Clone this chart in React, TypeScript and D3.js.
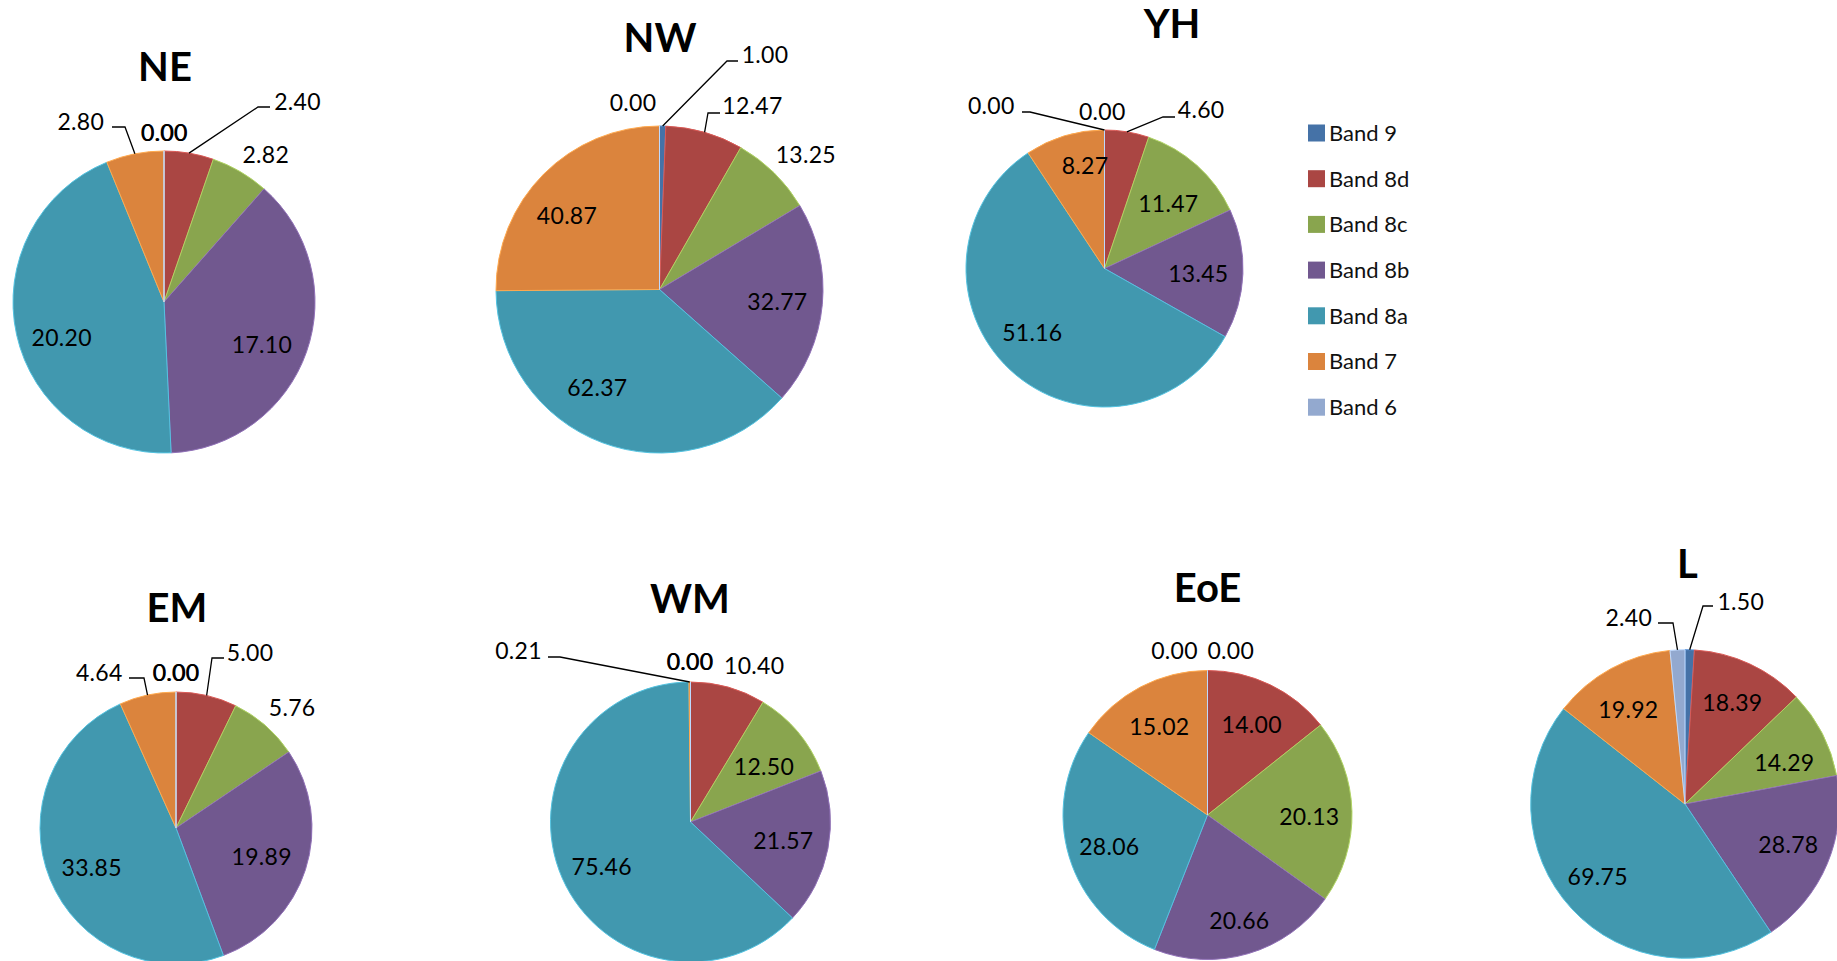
import React from "react";
import * as d3 from "d3";

// Spectral bands (legend order, also the clockwise slice order from 12 o'clock)
const bands = ["Band 9", "Band 8d", "Band 8c", "Band 8b", "Band 8a", "Band 7", "Band 6"];
const bandColors = ["#4572A7", "#AA4643", "#89A54E", "#71588F", "#4198AF", "#DB843D", "#93A9CF"];

// Regions
const regions = ["NE", "NW", "YH", "EM", "WM", "EoE", "L"];

// Values per region, in band order
const neValues = [0.0, 2.4, 2.82, 17.1, 20.2, 2.8, 0.0];
const nwValues = [1.0, 12.47, 13.25, 32.77, 62.37, 40.87, 0.0];
const yhValues = [0.0, 4.6, 11.47, 13.45, 51.16, 8.27, 0.0];
const emValues = [0.0, 5.0, 5.76, 19.89, 33.85, 4.64, 0.0];
const wmValues = [0.0, 10.4, 12.5, 21.57, 75.46, 0.21, 0.0];
const eoeValues = [0.0, 14.0, 20.13, 20.66, 28.06, 15.02, 0.0];
const lValues = [1.5, 18.39, 14.29, 28.78, 69.75, 19.92, 2.4];

const regionValues = [neValues, nwValues, yhValues, emValues, wmValues, eoeValues, lValues];

// Panel layout: pie centre/radius, title anchor, and label anchors relative to the pie centre.
// A label with `leader` gets a callout: slice edge -> elbow -> short horizontal run.
type LabelPos = { dx: number; dy: number; leader?: { ex: number; ey: number; tx: number } };
type Panel = { cx: number; cy: number; r: number; tx: number; ty: number; labels: LabelPos[] };

const panels: Panel[] = [
  {
    cx: 164, cy: 302, r: 151, tx: 165, ty: 81,
    labels: [
      { dx: 0, dy: -169.2 },
      { dx: 133.5, dy: -200.2, leader: { ex: 94, ey: -195, tx: 106 } },
      { dx: 101.8, dy: -146.8 },
      { dx: 98, dy: 43 },
      { dx: -102.3, dy: 36.3 },
      { dx: -83.2, dy: -180.2, leader: { ex: -39, ey: -175, tx: -52 } },
      { dx: 0.6, dy: -169.2 },
    ],
  },
  {
    cx: 659.5, cy: 289.5, r: 163.5, tx: 660, ty: 52,
    labels: [
      { dx: 105.5, dy: -235, leader: { ex: 67.5, ey: -228.5, tx: 78.5 } },
      { dx: 93, dy: -183.7, leader: { ex: 48.5, ey: -176.5, tx: 60.5 } },
      { dx: 146.3, dy: -135 },
      { dx: 117.8, dy: 12.2 },
      { dx: -62.2, dy: 98.8 },
      { dx: -92.5, dy: -73.5 },
      { dx: -26.5, dy: -186.7 },
    ],
  },
  {
    cx: 1104.5, cy: 268.5, r: 138.5, tx: 1172, ty: 38,
    labels: [
      { dx: -2.3, dy: -156.5 },
      { dx: 96.7, dy: -158.5, leader: { ex: 58.5, ey: -151.5, tx: 70.5 } },
      { dx: 63.8, dy: -64.5 },
      { dx: 93.8, dy: 5.5 },
      { dx: -72.2, dy: 64.8 },
      { dx: -19.5, dy: -102.3 },
      { dx: -113.3, dy: -162.3, leader: { ex: -74.5, ey: -156.5, tx: -82.5 } },
    ],
  },
  {
    cx: 176, cy: 828, r: 136, tx: 177, ty: 622,
    labels: [
      { dx: -0.2, dy: -155.5 },
      { dx: 74, dy: -175, leader: { ex: 36, ey: -170, tx: 48 } },
      { dx: 116.2, dy: -120.5 },
      { dx: 85.7, dy: 28.7 },
      { dx: -84.3, dy: 40.3 },
      { dx: -76.8, dy: -155.5, leader: { ex: -32, ey: -150, tx: -47 } },
      { dx: 0.4, dy: -155.5 },
    ],
  },
  {
    cx: 690.5, cy: 822, r: 140, tx: 690, ty: 613,
    labels: [
      { dx: -0.8, dy: -159.8 },
      { dx: 63.7, dy: -156.5 },
      { dx: 73.5, dy: -55.3 },
      { dx: 92.8, dy: 18.7 },
      { dx: -88.8, dy: 44.7 },
      { dx: -172, dy: -171.3, leader: { ex: -130.5, ey: -165, tx: -142.5 } },
      { dx: -0.2, dy: -159.8 },
    ],
  },
  {
    cx: 1207.5, cy: 815, r: 144.5, tx: 1207.5, ty: 602,
    labels: [
      { dx: 23.3, dy: -163.8 },
      { dx: 44.2, dy: -90 },
      { dx: 101.8, dy: 1.7 },
      { dx: 31.8, dy: 106 },
      { dx: -98.2, dy: 31.7 },
      { dx: -48.2, dy: -88.3 },
      { dx: -33, dy: -163.8 },
    ],
  },
  {
    cx: 1685, cy: 804, r: 154.3, tx: 1687.5, ty: 578,
    labels: [
      { dx: 55.8, dy: -202.5, leader: { ex: 18, ey: -198, tx: 28 } },
      { dx: 47.3, dy: -100.7 },
      { dx: 99.3, dy: -40.7 },
      { dx: 103.3, dy: 41 },
      { dx: -87.3, dy: 72.7 },
      { dx: -56.7, dy: -94 },
      { dx: -56.2, dy: -186.5, leader: { ex: -12, ey: -181, tx: -27 } },
    ],
  },
];

const FONT = "Lato, 'Open Sans', 'Liberation Sans', sans-serif";
const LABEL_SIZE = 23;
const TITLE_SIZE = 40;

const color = d3.scaleOrdinal<string, string>().domain(bands).range(bandColors);

const legend = { x: 1308, y: 133, step: 45.7, box: 17 };

function PieChart({ name, values, panel }: { name: string; values: number[]; panel: Panel }) {
  const pie = d3
    .pie<number>()
    .sort(null)
    .value((v) => v);
  const arcs = pie(values);
  const arc = d3.arc<d3.PieArcDatum<number>>().innerRadius(0).outerRadius(panel.r);
  const baselineShift = LABEL_SIZE * 0.355;

  return (
    <g>
      <text
        x={panel.tx}
        y={panel.ty}
        textAnchor="middle"
        fontFamily={FONT}
        fontWeight={700}
        fontSize={TITLE_SIZE}
        fill="#000"
      >
        {name}
      </text>
      <g transform={`translate(${panel.cx},${panel.cy})`}>
        {arcs.map((a, i) => {
          const fill = color(bands[i]);
          return (
            <path
              key={bands[i]}
              d={arc(a) || ""}
              fill={fill}
              stroke={d3.color(fill)!.brighter(0.7).formatHex()}
              strokeWidth={1}
              strokeLinejoin="round"
            />
          );
        })}
        {arcs.map((a, i) => {
          const lp = panel.labels[i];
          const mid = (a.startAngle + a.endAngle) / 2;
          const sx = panel.r * Math.sin(mid);
          const sy = -panel.r * Math.cos(mid);
          return (
            <g key={"lbl" + bands[i]}>
              {lp.leader && (
                <polyline
                  points={`${sx},${sy} ${lp.leader.ex},${lp.leader.ey} ${lp.leader.tx},${lp.leader.ey}`}
                  fill="none"
                  stroke="#000"
                  strokeWidth={1.3}
                />
              )}
              <text
                x={lp.dx}
                y={lp.dy + baselineShift}
                textAnchor="middle"
                fontFamily={FONT}
                fontSize={LABEL_SIZE}
                letterSpacing={0.3}
                fill="#000"
              >
                {a.data.toFixed(2)}
              </text>
            </g>
          );
        })}
      </g>
    </g>
  );
}

export default function App() {
  return (
    <svg
      width={1837}
      height={961}
      viewBox="0 0 1837 961"
      style={{ position: "absolute", left: 0, top: 0, background: "#fff" }}
    >
      <rect x={0} y={0} width={1837} height={961} fill="#fff" />
      {regions.map((name, i) => (
        <PieChart key={name} name={name} values={regionValues[i]} panel={panels[i]} />
      ))}
      <g>
        {bands.map((b, i) => {
          const y = legend.y + i * legend.step;
          return (
            <g key={b}>
              <rect
                x={legend.x}
                y={y - legend.box / 2}
                width={legend.box}
                height={legend.box}
                fill={color(b)}
              />
              <text
                x={legend.x + legend.box + 4}
                y={y + 22 * 0.36}
                fontFamily={FONT}
                fontSize={22}
                fill="#111"
              >
                {b}
              </text>
            </g>
          );
        })}
      </g>
    </svg>
  );
}
